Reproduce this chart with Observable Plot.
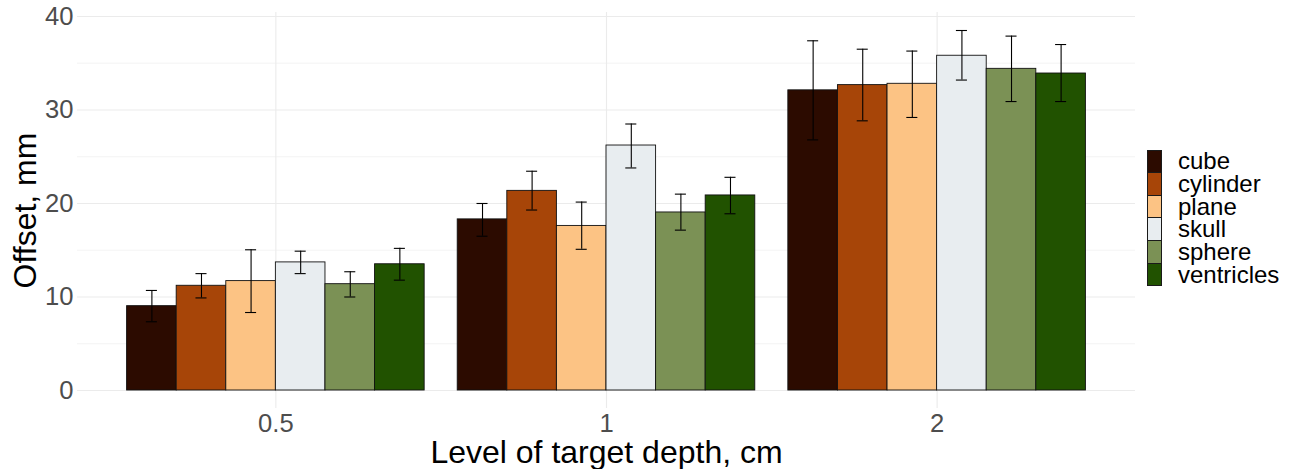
<!DOCTYPE html>
<html>
<head>
<meta charset="utf-8">
<script src="https://cdn.jsdelivr.net/npm/d3@7"></script>
<script src="https://cdn.jsdelivr.net/npm/@observablehq/plot@0.6"></script>
<style>
  html, body { margin: 0; padding: 0; background: #fff; }
  #wrap { position: relative; width: 1290px; height: 469px; font-family: "Liberation Sans", Arial, sans-serif; }
  #legend { position: absolute; left: 1147px; top: 150px; }
  .row { display: flex; align-items: center; height: 22.67px; }
  .key { width: 13px; height: 21.67px; border: 0.5px solid #1a1a1a; box-sizing: content-box; }
  .lab { margin-left: 16px; font-size: 24px; color: #000; line-height: 22px; white-space: nowrap; }
</style>
</head>
<body>
<div id="wrap"><div id="legend"></div></div>
<script>
const depths = ["0.5", "1", "2"];
const shapes = ["cube", "cylinder", "plane", "skull", "sphere", "ventricles"];
const colors = ["#2c0b00", "#a74508", "#fcc384", "#e8edf0", "#7b9155", "#215200"];
const meanOffset = [
  [9.02, 11.2, 11.7, 13.7, 11.37, 13.5],
  [18.3, 21.35, 17.6, 26.2, 19.04, 20.86],
  [32.1, 32.66, 32.8, 35.8, 34.4, 33.9]
];
const lowerOffset = [
  [7.35, 9.9, 8.34, 12.5, 10.0, 11.8],
  [16.5, 19.3, 15.1, 23.8, 17.15, 18.9],
  [26.8, 28.84, 29.2, 33.2, 30.9, 30.9]
];
const upperOffset = [
  [10.7, 12.5, 15.05, 14.9, 12.7, 15.2],
  [20.0, 23.45, 20.15, 28.5, 21.0, 22.8],
  [37.4, 36.5, 36.3, 38.5, 37.9, 37.0]
];
const yTicks = [0, 10, 20, 30, 40];
const yMinor = [5, 15, 25, 35];

const dodge = 0.9 / shapes.length;
const capHalf = 0.0167;
const rows = [];
depths.forEach((d, g) => shapes.forEach((s, i) => {
  const x1 = g + 1 - 0.45 + i * dodge;
  rows.push({depth: d, shape: s, x1, x2: x1 + dodge, xc: x1 + dodge / 2,
    mean: meanOffset[g][i], lo: lowerOffset[g][i], hi: upperOffset[g][i]});
}));

const font = '"Liberation Sans", Arial, sans-serif';
const chart = Plot.plot({
  width: 1290,
  height: 469,
  marginLeft: 77,
  marginRight: 155,
  marginTop: 12,
  marginBottom: 61,
  style: {fontFamily: font, background: "white", overflow: "visible"},
  x: {domain: [0.4, 3.6], axis: null},
  y: {domain: [-1.925, 40.425], axis: null},
  color: {domain: shapes, range: colors},
  marks: [
    Plot.ruleY(yMinor, {stroke: "#f0f0f0", strokeWidth: 0.8}),
    Plot.ruleY(yTicks, {stroke: "#ebebeb", strokeWidth: 1.1}),
    Plot.ruleX([1, 2, 3], {stroke: "#ebebeb", strokeWidth: 1.1}),
    Plot.rectY(rows, {x1: "x1", x2: "x2", y1: 0, y2: "mean", fill: "shape", stroke: "#111", strokeWidth: 0.9}),
    Plot.ruleX(rows, {x: "xc", y1: "lo", y2: "hi", stroke: "#000", strokeWidth: 1.1}),
    Plot.ruleY(rows, {y: "lo", x1: d => d.xc - capHalf, x2: d => d.xc + capHalf, stroke: "#000", strokeWidth: 1.1}),
    Plot.ruleY(rows, {y: "hi", x1: d => d.xc - capHalf, x2: d => d.xc + capHalf, stroke: "#000", strokeWidth: 1.1}),
    Plot.axisY({ticks: yTicks, tickSize: 0, tickPadding: 4, fontSize: 25.6, color: "#4d4d4d", label: null}),
    Plot.axisX({ticks: [1, 2, 3], tickFormat: d => depths[d - 1], tickSize: 0, tickPadding: 5, fontSize: 25.6, color: "#4d4d4d", label: null}),
    Plot.text(["Level of target depth, cm"], {frameAnchor: "bottom", lineAnchor: "bottom", dy: 54, fontSize: 32, fill: "#000"}),
    Plot.text(["Offset, mm"], {frameAnchor: "left", textAnchor: "middle", lineAnchor: "bottom", rotate: -90, dx: -42, fontSize: 32, fill: "#000"})
  ]
});
const wrap = document.getElementById("wrap");
wrap.insertBefore(chart, wrap.firstChild);

const legend = document.getElementById("legend");
shapes.forEach((s, i) => {
  const row = document.createElement("div");
  row.className = "row";
  const key = document.createElement("div");
  key.className = "key";
  key.style.background = colors[i];
  const lab = document.createElement("div");
  lab.className = "lab";
  lab.textContent = s;
  row.appendChild(key);
  row.appendChild(lab);
  legend.appendChild(row);
});
</script>
</body>
</html>
